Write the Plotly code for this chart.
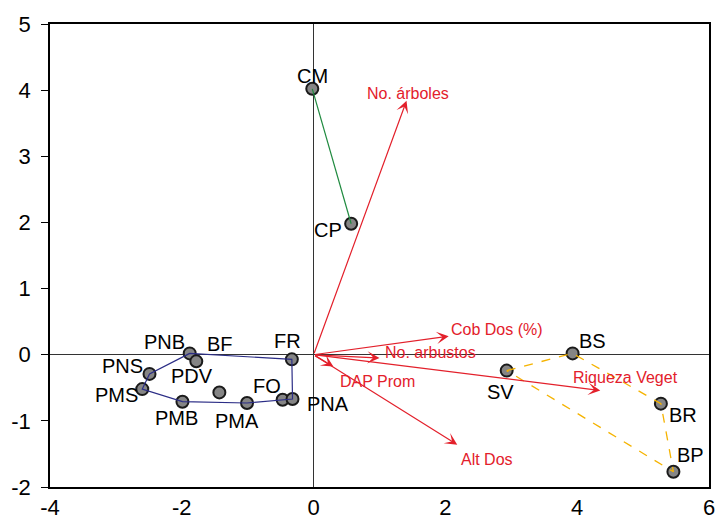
import plotly.graph_objects as go

# Site scores on the first two ordination axes
sites = ["CM", "CP", "PNB", "BF", "PNS", "PDV", "PMS", "PMB",
         "PMA", "FO", "FR", "PNA", "BS", "SV", "BR", "BP"]
site_x = [-0.02, 0.57, -1.88, -1.78, -2.49, -1.43, -2.60, -1.99,
          -1.01, -0.47, -0.33, -0.32, 3.93, 2.93, 5.27, 5.46]
site_y = [4.02, 1.98, 0.02, -0.10, -0.29, -0.57, -0.52, -0.71,
          -0.73, -0.68, -0.07, -0.67, 0.02, -0.24, -0.74, -1.77]

# Group outlines (site order along each outline)
group_c = ["CM", "CP"]
group_p = ["PNB", "FR", "PNA", "PMA", "PMB", "PMS", "PNS", "PNB"]
group_b = ["SV", "BS", "BR", "BP", "SV"]

# Environmental variable vectors (arrow tips)
variables = ["No. árboles", "Cob Dos (%)", "No. arbustos", "DAP Prom",
             "Riqueza Veget", "Alt Dos"]
var_x = [1.41, 2.05, 1.00, 0.30, 4.35, 2.18]
var_y = [3.84, 0.28, -0.05, -0.18, -0.54, -1.36]

# Tick values and labels
x_ticks = [-4, -2, 0, 2, 4, 6]
x_tick_labels = ["-4", "-2", "0", "2", "4", "6"]
y_ticks = [-2, -1, 0, 1, 2, 3, 4, 5]
y_tick_labels = ["-2", "-1", "0", "1", "2", "3", "4", "5"]

# ---- styling ----
FONT = "Liberation Sans, Arial, sans-serif"
RED = "#e3202b"
X_RANGE = [-4, 6]
Y_RANGE = [-2, 5]
# pixel offsets of site labels relative to their markers (dx right, dy up)
site_label_offset = {
    "CM": (0, 13), "CP": (-23, -6), "PNB": (-25, 11), "BF": (24, 17),
    "PNS": (-27, 8), "PDV": (-27, 16), "PMS": (-26, -6), "PMB": (-6, -16),
    "PMA": (-10, -18), "FO": (-16, 14), "FR": (-4, 18), "PNA": (35, -5),
    "BS": (20, 12), "SV": (-6, -21), "BR": (22, -11), "BP": (17, 17),
}
# data positions of variable labels (text centre)
var_label_pos = {
    "No. árboles": (1.43, 3.95), "Cob Dos (%)": (2.78, 0.38),
    "No. arbustos": (1.78, 0.03), "DAP Prom": (0.97, -0.41),
    "Riqueza Veget": (4.73, -0.35), "Alt Dos": (2.63, -1.58),
}

idx = {s: i for i, s in enumerate(sites)}

fig = go.Figure()

# site markers
fig.add_trace(go.Scatter(
    x=site_x, y=site_y, mode="markers", hoverinfo="text", text=sites,
    marker=dict(size=12, color="#858585", line=dict(color="#1a1a1a", width=2)),
    showlegend=False,
))


def outline(names, color, dash, width):
    fig.add_trace(go.Scatter(
        x=[site_x[idx[n]] for n in names], y=[site_y[idx[n]] for n in names],
        mode="lines", line=dict(color=color, width=width, dash=dash),
        hoverinfo="skip", showlegend=False,
    ))


outline(group_c, "#1f8a3f", "solid", 1.2)
outline(group_p, "#2b2d86", "solid", 1.2)
outline(group_b, "#f5b300", "dash", 1.3)

annotations = []

# variable arrows
for name, vx, vy in zip(variables, var_x, var_y):
    annotations.append(dict(
        x=vx, y=vy, ax=0, ay=0, xref="x", yref="y", axref="x", ayref="y",
        text="", showarrow=True, arrowhead=3, arrowsize=1.7, arrowwidth=1.2,
        arrowcolor=RED, standoff=0,
    ))
    lx, ly = var_label_pos[name]
    annotations.append(dict(
        x=lx, y=ly, xref="x", yref="y", text=name, showarrow=False,
        font=dict(family=FONT, size=16, color=RED),
        xanchor="center", yanchor="middle",
    ))

# site labels
for s, sx, sy in zip(sites, site_x, site_y):
    dx, dy = site_label_offset[s]
    annotations.append(dict(
        x=sx, y=sy, xref="x", yref="y", text=s, showarrow=False,
        xshift=dx, yshift=dy, xanchor="center", yanchor="middle",
        font=dict(family=FONT, size=20, color="black"),
    ))

axis_common = dict(
    showgrid=False, showline=True, mirror=True, linecolor="black",
    linewidth=1.5, tickcolor="black", zeroline=True, zerolinecolor="#333333",
    zerolinewidth=1.2, tickfont=dict(family=FONT, size=22, color="black"),
    automargin=False,
)

fig.update_layout(
    width=719, height=527,
    margin=dict(l=50, r=10, t=24, b=40),
    plot_bgcolor="white", paper_bgcolor="white",
    # labelled bottom axis (tick marks come from the overlaid axis below)
    xaxis=dict(range=X_RANGE, tickvals=x_ticks, ticktext=x_tick_labels,
               ticks="", ticklen=0, **axis_common),
    # tick marks only, sharing the bottom axis range
    xaxis2=dict(range=X_RANGE, overlaying="x", side="bottom", anchor="y",
                tickvals=x_ticks, showticklabels=False, ticks="outside",
                ticklen=5, tickwidth=1.2, tickcolor="black", showgrid=False,
                zeroline=False, showline=False),
    yaxis=dict(range=Y_RANGE, tickvals=y_ticks, ticktext=y_tick_labels,
               ticks="outside", ticklen=7, tickwidth=1.2,
               ticklabelstandoff=6, **axis_common),
    annotations=annotations,
    showlegend=False,
)

fig.write_html("out.html")
